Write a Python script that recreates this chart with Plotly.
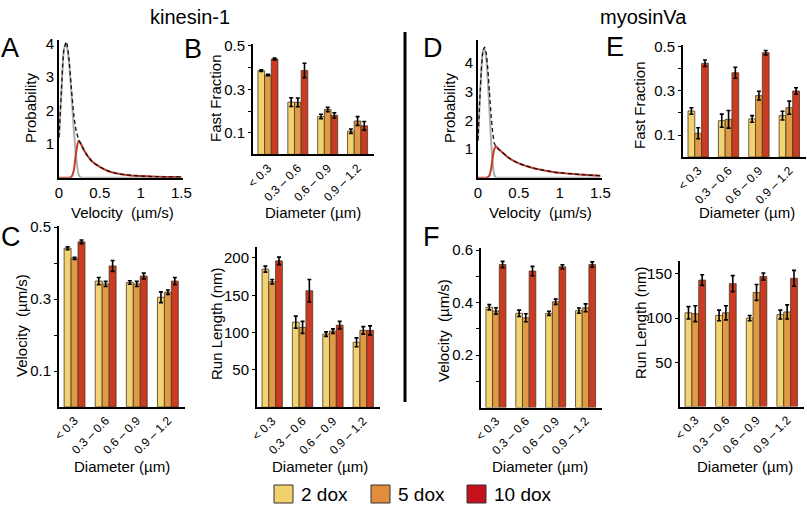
import plotly.graph_objects as go

W, H = 807, 507
FONT = "Liberation Sans, Arial, sans-serif"

# ---------------- data ----------------
categories = ["< 0.3", "0.3 – 0.6", "0.6 – 0.9", "0.9 – 1.2"]
series_names = ["2 dox", "5 dox", "10 dox"]

# Kinesin-1 fast fraction (B)
kin_ff_2 = [0.386, 0.241, 0.175, 0.107]
kin_ff_5 = [0.366, 0.240, 0.207, 0.154]
kin_ff_10 = [0.440, 0.387, 0.180, 0.132]
kin_ff_2_err = [0.004, 0.02, 0.01, 0.01]
kin_ff_5_err = [0.003, 0.02, 0.01, 0.02]
kin_ff_10_err = [0.004, 0.033, 0.012, 0.02]

# Kinesin-1 velocity (C)
kin_v_2 = [0.441, 0.350, 0.346, 0.305]
kin_v_5 = [0.413, 0.342, 0.342, 0.319]
kin_v_10 = [0.459, 0.392, 0.364, 0.350]
kin_v_2_err = [0.004, 0.01, 0.005, 0.015]
kin_v_5_err = [0.003, 0.007, 0.007, 0.006]
kin_v_10_err = [0.005, 0.015, 0.008, 0.01]

# Kinesin-1 run length
kin_rl_2 = [185, 114, 98, 87]
kin_rl_5 = [168, 107, 102, 103]
kin_rl_10 = [196, 156, 110, 103]
kin_rl_2_err = [4, 8, 3, 6]
kin_rl_5_err = [3, 8, 3, 5]
kin_rl_10_err = [5, 15, 5, 6]

# MyosinVa fast fraction (E)
myo_ff_2 = [0.209, 0.165, 0.173, 0.188]
myo_ff_5 = [0.108, 0.171, 0.279, 0.224]
myo_ff_10 = [0.426, 0.383, 0.474, 0.300]
myo_ff_2_err = [0.015, 0.03, 0.015, 0.02]
myo_ff_5_err = [0.025, 0.04, 0.02, 0.03]
myo_ff_10_err = [0.015, 0.025, 0.01, 0.015]

# MyosinVa velocity (F)
myo_v_2 = [0.382, 0.359, 0.359, 0.369]
myo_v_5 = [0.368, 0.342, 0.403, 0.380]
myo_v_10 = [0.545, 0.520, 0.536, 0.545]
myo_v_2_err = [0.01, 0.012, 0.008, 0.01]
myo_v_5_err = [0.012, 0.015, 0.01, 0.015]
myo_v_10_err = [0.012, 0.018, 0.008, 0.01]

# MyosinVa run length
myo_rl_2 = [106, 103, 100, 104]
myo_rl_5 = [105, 106, 129, 107]
myo_rl_10 = [143, 139, 147, 145]
myo_rl_2_err = [7, 6, 3, 5]
myo_rl_5_err = [9, 8, 9, 8]
myo_rl_10_err = [6, 9, 4, 9]

# Velocity distributions (A, kinesin-1)
kin_dist_x = [0, 0.03, 0.06, 0.09, 0.12, 0.15, 0.18, 0.21, 0.24, 0.27, 0.3, 0.35, 0.4, 0.5, 0.6, 0.7, 0.8, 1.0, 1.2, 1.5]
kin_dist_total = [1.2, 2.6, 3.8, 4.05, 3.6, 2.7, 1.9, 1.4, 1.15, 1.0, 0.85, 0.65, 0.5, 0.32, 0.2, 0.13, 0.09, 0.05, 0.03, 0.02]
kin_dist_slow = [1.2, 2.6, 3.8, 4.0, 3.5, 2.6, 1.5, 0.6, 0.1, 0.0, 0.0, 0.0, 0.0, 0.0, 0.0, 0.0, 0.0, 0.0, 0.0, 0.0]
kin_dist_fast = [0.0, 0.0, 0.0, 0.0, 0.0, 0.02, 0.2, 0.75, 1.1, 1.0, 0.85, 0.65, 0.5, 0.32, 0.2, 0.13, 0.09, 0.05, 0.03, 0.02]

# Velocity distributions (D, myosinVa)
myo_dist_x = [0, 0.02, 0.04, 0.06, 0.08, 0.1, 0.12, 0.14, 0.16, 0.18, 0.2, 0.22, 0.25, 0.3, 0.35, 0.4, 0.5, 0.6, 0.7, 0.8, 0.9, 1.0, 1.2, 1.5]
myo_dist_total = [1.3, 2.6, 3.7, 4.4, 4.55, 4.35, 3.8, 3.0, 2.2, 1.6, 1.2, 1.1, 1.0, 0.88, 0.75, 0.65, 0.5, 0.4, 0.32, 0.26, 0.21, 0.17, 0.12, 0.07]
myo_dist_slow = [1.3, 2.6, 3.7, 4.4, 4.5, 4.2, 3.4, 2.4, 1.3, 0.5, 0.1, 0.0, 0.0, 0.0, 0.0, 0.0, 0.0, 0.0, 0.0, 0.0, 0.0, 0.0, 0.0, 0.0]
myo_dist_fast = [0.0, 0.0, 0.0, 0.0, 0.0, 0.0, 0.02, 0.08, 0.3, 0.7, 1.0, 1.1, 1.0, 0.88, 0.75, 0.65, 0.5, 0.4, 0.32, 0.26, 0.21, 0.17, 0.12, 0.07]

# ---------------- style ----------------
bar_colors = ["#F3D371", "#E09A46", "#CB3A23"]
legend_colors = ["#F2D06C", "#E08D3C", "#C5111B"]
bar_line = "#4a3a22"


def dx(x0, x1):
    return [x0 / W, x1 / W]


def dy(y0, y1):
    return [1 - y1 / H, 1 - y0 / H]


fig = go.Figure()


def add_bars(ax, vals, errs):
    for name, v, e, c in zip(series_names, vals, errs, bar_colors):
        fig.add_trace(go.Bar(
            x=categories, y=v, name=name, marker=dict(color=c, line=dict(color=bar_line, width=0.8)),
            error_y=dict(type="data", array=e, color="black", thickness=1.6, width=2),
            xaxis="x" + ax, yaxis="y" + ax, showlegend=False))


def add_dist(ax, x, total, slow, fast):
    fig.add_trace(go.Scatter(x=x, y=slow, mode="lines", line=dict(color="#ADADAD", width=2, shape="spline", smoothing=0.6),
                             xaxis="x" + ax, yaxis="y" + ax, showlegend=False))
    fig.add_trace(go.Scatter(x=x, y=fast, mode="lines", line=dict(color="#C23B2C", width=2, shape="spline", smoothing=0.6),
                             xaxis="x" + ax, yaxis="y" + ax, showlegend=False))
    fig.add_trace(go.Scatter(x=x, y=total, mode="lines", line=dict(color="#111111", width=1.3, dash="4px,3px", shape="spline", smoothing=0.6),
                             xaxis="x" + ax, yaxis="y" + ax, showlegend=False))


add_dist("", kin_dist_x, kin_dist_total, kin_dist_slow, kin_dist_fast)
add_bars("2", [kin_ff_2, kin_ff_5, kin_ff_10], [kin_ff_2_err, kin_ff_5_err, kin_ff_10_err])
add_bars("3", [kin_v_2, kin_v_5, kin_v_10], [kin_v_2_err, kin_v_5_err, kin_v_10_err])
add_bars("4", [kin_rl_2, kin_rl_5, kin_rl_10], [kin_rl_2_err, kin_rl_5_err, kin_rl_10_err])
add_dist("5", myo_dist_x, myo_dist_total, myo_dist_slow, myo_dist_fast)
add_bars("6", [myo_ff_2, myo_ff_5, myo_ff_10], [myo_ff_2_err, myo_ff_5_err, myo_ff_10_err])
add_bars("7", [myo_v_2, myo_v_5, myo_v_10], [myo_v_2_err, myo_v_5_err, myo_v_10_err])
add_bars("8", [myo_rl_2, myo_rl_5, myo_rl_10], [myo_rl_2_err, myo_rl_5_err, myo_rl_10_err])

base = dict(showline=True, linecolor="black", linewidth=2, showgrid=False, zeroline=False,
            tickfont=dict(family=FONT, size=15, color="black"), ticks="outside", ticklen=3,
            tickcolor="black", tickwidth=1)


def yax(anchor, d, rng, tv, tt):
    a = dict(base)
    a.update(domain=d, range=rng, anchor=anchor, tickvals=tv, ticktext=tt)
    return a


def xcat(anchor, d):
    a = dict(base)
    a.update(domain=d, anchor=anchor, type="category", tickangle=-45, ticks="",
             tickfont=dict(family=FONT, size=12, color="black"), range=[-0.5, 3.55])
    return a


def xnum(anchor, d):
    a = dict(base)
    a.update(domain=d, anchor=anchor, range=[0, 1.52], tickvals=[0, 0.5, 1, 1.5],
             ticktext=["0", "0.5", "1", "1.5"], ticks="")
    return a


layout = dict(
    width=W, height=H, margin=dict(l=0, r=0, t=0, b=0, autoexpand=False),
    paper_bgcolor="white", plot_bgcolor="white", showlegend=False,
    barmode="group", bargap=0.33, bargroupgap=0,
    font=dict(family=FONT, color="black"),
)
# A
layout["xaxis"] = xnum("y", dx(59, 183))
layout["yaxis"] = yax("x", dy(40, 177.7), [0, 4.1], [1, 2, 3, 4], ["1", "2", "3", "4"])
layout["yaxis"]["ticks"] = ""
# B
layout["xaxis2"] = xcat("y2", dx(253, 374))
layout["yaxis2"] = yax("x2", dy(44, 154.4), [0, 0.509], [0.1, 0.2, 0.3, 0.4, 0.5], ["0.1", "", "0.3", "", "0.5"])
# C
layout["xaxis3"] = xcat("y3", dx(59, 185))
layout["yaxis3"] = yax("x3", dy(226, 407), [0, 0.503], [0.1, 0.2, 0.3, 0.4, 0.5], ["0.1", "", "0.3", "", "0.5"])
# RL kinesin
layout["xaxis4"] = xcat("y4", dx(257, 380))
layout["yaxis4"] = yax("x4", dy(246.7, 407.3), [0, 215], [50, 100, 150, 200], ["50", "100", "150", "200"])
# D
layout["xaxis5"] = xnum("y5", dx(478, 602))
layout["yaxis5"] = yax("x5", dy(40, 177.7), [0, 4.8], [1, 2, 3, 4], ["1", "2", "3", "4"])
layout["yaxis5"]["ticks"] = ""
# E
layout["xaxis6"] = xcat("y6", dx(683, 806))
layout["yaxis6"] = yax("x6", dy(45, 157), [0, 0.509], [0.1, 0.2, 0.3, 0.4, 0.5], ["0.1", "", "0.3", "", "0.5"])
# F
layout["xaxis7"] = xcat("y7", dx(481, 602))
layout["yaxis7"] = yax("x7", dy(247.7, 407.5), [0, 0.609], [0.1, 0.2, 0.3, 0.4, 0.5, 0.6], ["", "0.2", "", "0.4", "", "0.6"])
# RL myosin
layout["xaxis8"] = xcat("y8", dx(680, 804))
layout["yaxis8"] = yax("x8", dy(261, 406.5), [0, 164.6], [50, 100, 150], ["50", "100", "150"])

fig.update_layout(**layout)

ann = []


def text(x, y, s, size=15, angle=0, xanchor="center"):
    ann.append(dict(x=x / W, y=1 - y / H, xref="paper", yref="paper", text=s, showarrow=False,
                    textangle=angle, xanchor=xanchor, yanchor="middle",
                    font=dict(family=FONT, size=size, color="black")))


# group titles
text(190, 17, "kinesin-1", 20)
text(643, 17, "myosinVa", 20)
# panel letters
for lx, ly, s in [(10, 48, "A"), (193, 49, "B"), (11, 237, "C"), (433, 48, "D"), (615, 47, "E"), (432, 237, "F")]:
    text(lx, ly, s, 27)
# axis titles
text(31, 108, "Probability", 15, -90)
text(122, 212, "Velocity  (µm/s)", 15)
text(215, 98, "Fast Fraction", 15, -90)
text(313, 212, "Diameter (µm)", 15)
text(21, 326, "Velocity  (µm/s)", 15, -90)
text(122, 466, "Diameter (µm)", 15)
text(216, 323, "Run Length (nm)", 15, -90)
text(320, 466, "Diameter (µm)", 15)
text(450, 108, "Probability", 15, -90)
text(540, 212, "Velocity  (µm/s)", 15)
text(640, 105, "Fast Fraction", 15, -90)
text(747, 212, "Diameter (µm)", 15)
text(443, 330, "Velocity  (µm/s)", 15, -90)
text(540, 466, "Diameter (µm)", 15)
text(640, 323, "Run Length (nm)", 15, -90)
text(745, 466, "Diameter (µm)", 15)

# legend
shapes = []
leg_x = [274, 371, 467]
for lx, name, c in zip(leg_x, series_names, legend_colors):
    shapes.append(dict(type="rect", xref="paper", yref="paper", x0=lx / W, x1=(lx + 19) / W,
                       y0=1 - 503 / H, y1=1 - 485 / H, fillcolor=c, line=dict(color="#333333", width=1)))
    text(lx + 25, 494, name, 19, 0, "left")

# divider
shapes.append(dict(type="line", xref="paper", yref="paper", x0=405 / W, x1=405 / W,
                   y0=1 - 402 / H, y1=1 - 32 / H, line=dict(color="black", width=3)))

fig.update_layout(annotations=ann, shapes=shapes)
fig.write_html("out.html", config={"displayModeBar": False},
               post_script="document.body.style.margin='0px';document.body.style.overflow='hidden';")
